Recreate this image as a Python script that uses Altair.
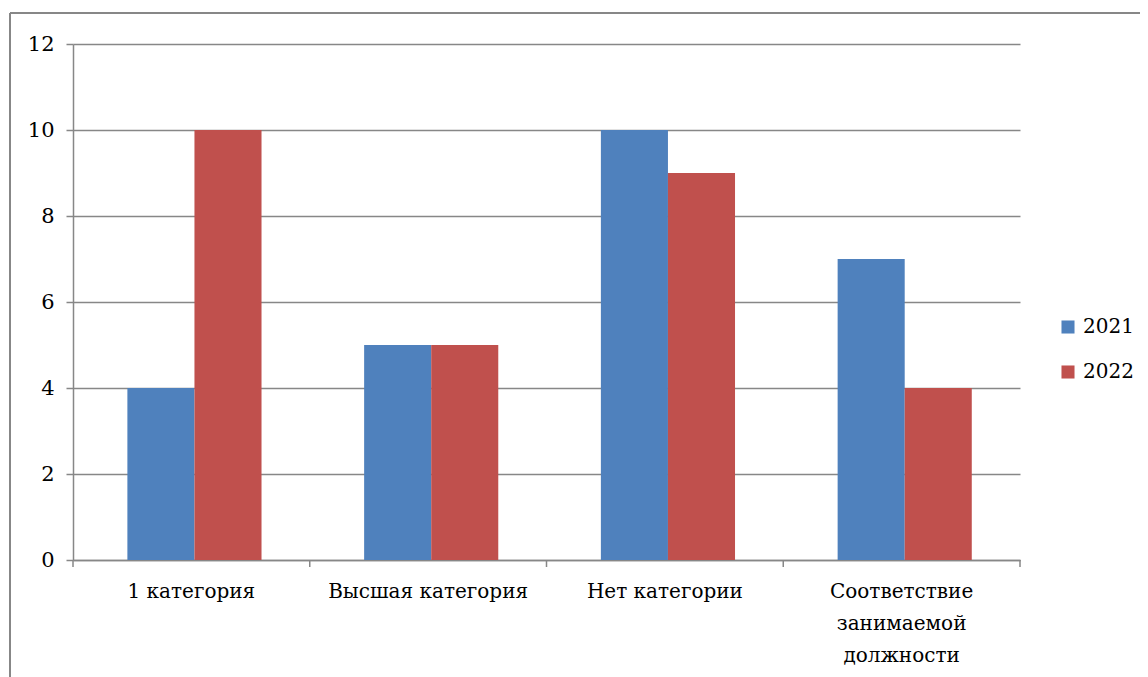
import altair as alt
import pandas as pd

categories = ["1 категория", "Высшая категория", "Нет категории", "Соответствие занимаемой должности"]
years = ["2021", "2022"]
values_2021 = [4, 5, 10, 7]
values_2022 = [10, 5, 9, 4]
y_ticks = [0, 2, 4, 6, 8, 10, 12]
boundaries = [0, 1, 2, 3, 4]

rows = []
for c, a, b in zip(categories, values_2021, values_2022):
    rows.append({"cat": c, "year": "2021", "value": a})
    rows.append({"cat": c, "year": "2022", "value": b})
df = pd.DataFrame(rows)
bdf = pd.DataFrame({"b": boundaries})

GREY = "#878787"
FONT = "DejaVu Serif"
FS = 20
W, H = 947, 516

label_expr = ("datum.value == 'Соответствие занимаемой должности' ? "
              "['Соответствие', 'занимаемой', 'должности'] : datum.value")

bars = alt.Chart(df).mark_bar().encode(
    x=alt.X("cat:N", sort=categories, title=None,
            scale=alt.Scale(paddingInner=0, paddingOuter=0),
            axis=alt.Axis(labelAngle=0, ticks=False, domainColor=GREY, domainWidth=1.5,
                          labelPadding=21, labelExpr=label_expr, labelLineHeight=32,
                          labelLimit=400)),
    xOffset=alt.XOffset("year:N", scale=alt.Scale(paddingInner=0, paddingOuter=0.765, align=0.53)),
    y=alt.Y("value:Q", title=None,
            scale=alt.Scale(domain=[0, 12], nice=False),
            axis=alt.Axis(values=y_ticks, tickSize=7, tickColor=GREY, tickWidth=1.5,
                          domainColor=GREY, domainWidth=1.5,
                          gridColor=GREY, gridWidth=1.5, grid=True,
                          labelPadding=12, labelFontSize=21)),
    color=alt.Color("year:N", scale=alt.Scale(domain=years, range=["#4F81BD", "#C0504D"]),
                    legend=alt.Legend(title=None, orient="none", legendX=985, legendY=273,
                                      symbolType="square", symbolSize=170,
                                      symbolStrokeWidth=0,
                                      rowPadding=25, labelOffset=5)),
)

xticks = alt.Chart(bdf).mark_rule(color=GREY, strokeWidth=1.5).encode(
    x=alt.X("b:Q", scale=alt.Scale(domain=[0, 4], nice=False), axis=None),
    y=alt.value(H),
    y2=alt.value(H + 7),
)

frame_left = alt.Chart(bdf.head(1)).mark_rule(color=GREY, strokeWidth=2).encode(
    x=alt.value(-63), y=alt.value(-31), y2=alt.value(H + 200))
frame_top = alt.Chart(bdf.head(1)).mark_rule(color=GREY, strokeWidth=2).encode(
    x=alt.value(-63), x2=alt.value(W + 200), y=alt.value(-31))

chart = alt.layer(bars, xticks, frame_left, frame_top).resolve_scale(x="independent").properties(
    width=W, height=H,
    autosize=alt.AutoSizeParams(type="none"),
    padding={"left": 65, "top": 36, "right": 120, "bottom": 120},
).configure(background="white", font=FONT).configure_view(stroke=None).configure_axis(
    labelFont=FONT, labelFontSize=FS, labelColor="black"
).configure_legend(labelFont=FONT, labelFontSize=FS, labelColor="black")

chart.save("out.html", embed_options={"renderer": "svg", "actions": False})
